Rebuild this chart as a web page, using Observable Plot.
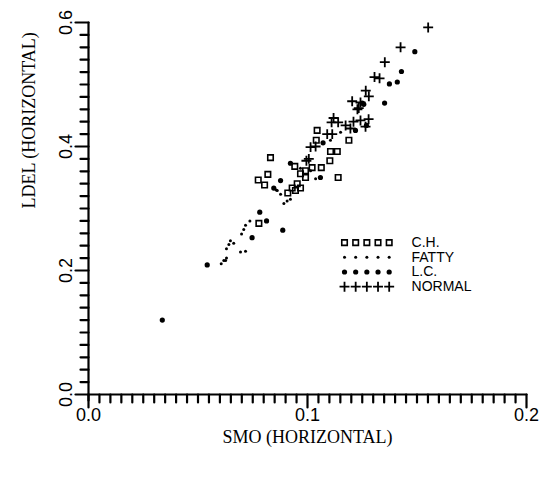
<!DOCTYPE html>
<html><head><meta charset="utf-8">
<script src="https://cdn.jsdelivr.net/npm/d3@7"></script>
<script src="https://cdn.jsdelivr.net/npm/@observablehq/plot@0.6"></script>
<style>body{margin:0;background:#fff;overflow:hidden}#chart svg{display:block}</style>
</head><body><div id="chart"></div>
<script>
// ---- data ----
const categories = ["C.H.", "FATTY", "L.C.", "NORMAL"];

const chX = [0.0831,0.0819,0.0775,0.0804,0.0778,0.0910,0.0945,0.0953,0.0942,0.0991,0.1021,0.1063,0.1102,0.1105,0.1136,0.1044,0.1040,0.1189,0.1140,0.0968,0.0991,0.0930,0.0968];
const chY = [0.382,0.355,0.346,0.338,0.276,0.325,0.329,0.340,0.368,0.361,0.366,0.366,0.377,0.392,0.392,0.426,0.410,0.410,0.350,0.356,0.350,0.333,0.333];

const fattyX = [0.0857,0.0862,0.0877,0.0892,0.0907,0.0922,0.0737,0.0717,0.0709,0.0699,0.0648,0.0641,0.0630,0.0663,0.0694,0.0717,0.0630,0.0618,0.0606,0.0626,0.0968,0.1014,0.1105,0.1151,0.1037];
const fattyY = [0.330,0.329,0.323,0.308,0.312,0.315,0.280,0.273,0.266,0.259,0.248,0.242,0.235,0.244,0.230,0.231,0.220,0.216,0.211,0.216,0.365,0.361,0.410,0.423,0.348];

const lcX = [0.1490,0.1429,0.1410,0.1352,0.1250,0.1257,0.1374,0.1269,0.1219,0.1071,0.0922,0.1059,0.0877,0.0846,0.0782,0.0813,0.0887,0.0747,0.0337,0.0542];
const lcY = [0.553,0.521,0.504,0.470,0.470,0.468,0.501,0.434,0.426,0.406,0.373,0.350,0.345,0.333,0.294,0.280,0.265,0.253,0.120,0.209];

const normalX = [0.1551,0.1425,0.1353,0.1306,0.1329,0.1266,0.1280,0.1204,0.1234,0.1242,0.1228,0.1119,0.1110,0.1140,0.1210,0.1242,0.1279,0.1174,0.1090,0.1113,0.1014,0.1037,0.1006,0.0995,0.1196,0.1265];
const normalY = [0.592,0.560,0.536,0.512,0.510,0.490,0.481,0.473,0.462,0.471,0.460,0.446,0.439,0.439,0.440,0.442,0.444,0.434,0.420,0.420,0.399,0.400,0.380,0.377,0.429,0.432];

const xTickLabels = [0.0, 0.1, 0.2];
const yTickLabels = [0.0, 0.2, 0.4, 0.6];
const xMinorTicks = d3.range(0, 41).map(i => i * 0.005);
const yMinorTicks = d3.range(0, 31).map(i => i * 0.02);

// ---- layout ----
const W = 552, H = 483, mL = 88, mR = 26, mT = 22, mB = 89;
const pxX = (W - mL - mR) / 0.2;   // pixels per x unit
const pxY = (H - mT - mB) / 0.6;   // pixels per y unit

// ---- build tables ----
const seriesX = [chX, fattyX, lcX, normalX];
const seriesY = [chY, fattyY, lcY, normalY];

const legX0 = 0.1169, legDX = 0.0051, legY0 = 0.245, legDY = 0.0237, legTextX = 0.1475;

function rowsFor(k) {
  const pts = seriesX[k].map((x, i) => ({x, y: seriesY[k][i]}));
  for (let j = 0; j < 5; j++) pts.push({x: legX0 + j * legDX, y: legY0 - k * legDY});
  return pts;
}
const legendText = categories.map((c, k) => ({label: c, x: legTextX, y: legY0 - k * legDY}));

// axis geometry as line series (each segment is its own series)
const axisRows = [];
let sid = 0;
function seg(x1, y1, x2, y2) { axisRows.push({s: sid, x: x1, y: y1}, {s: sid, x: x2, y: y2}); sid++; }
seg(0, 0, 0.2, 0);                       // x axis line
seg(0, -6 / pxY, 0, 0.6);                // y axis line
xMinorTicks.forEach((v, i) => seg(v, 0, v, -(i % 20 === 0 ? 13 : 8) / pxY));
yMinorTicks.forEach((v, i) => seg(0, v, -(i % 10 === 0 ? 13 : 8) / pxX, v));

const styles = [
  {symbol: "square", r: 3.1, fill: "none", stroke: "black", strokeWidth: 1.6},
  {symbol: "circle", r: 1.5, fill: "black"},
  {symbol: "circle", r: 2.6, fill: "black"},
  {symbol: "plus", r: 3.3, stroke: "black", strokeWidth: 1.8}
];

const serif = "'Liberation Serif', 'DejaVu Serif', serif";
const sans = "'Liberation Sans', Arial, sans-serif";

const plot = Plot.plot({
  width: W, height: H,
  marginLeft: mL, marginRight: mR, marginTop: mT, marginBottom: mB,
  style: {background: "white", color: "black", fontFamily: sans},
  x: {domain: [0, 0.2], axis: null},
  y: {domain: [0, 0.6], axis: null},
  marks: [
    // data + legend symbols
    ...categories.map((c, k) => Plot.dot(rowsFor(k), {x: "x", y: "y", ...styles[k]})),
    Plot.text(legendText, {x: "x", y: "y", text: "label", textAnchor: "start", fontSize: 14, fontFamily: sans, fill: "black", letterSpacing: 0.6}),
    // tick labels
    Plot.text(xTickLabels, {x: d => d, y: () => 0, dy: 21, text: d => d.toFixed(1), fontSize: 18, fontFamily: sans, fill: "black"}),
    Plot.text(yTickLabels, {x: () => 0, y: d => d, dx: -22, rotate: -90, text: d => d.toFixed(1), fontSize: 18, fontFamily: sans, fill: "black"}),
    // axis titles
    Plot.text(["SMO (HORIZONTAL)"], {x: () => 0.1, frameAnchor: "bottom", dy: 48, fontSize: 18, fontFamily: serif, fill: "black", letterSpacing: 0.8}),
    Plot.text(["LDEL (HORIZONTAL)"], {frameAnchor: "left", dx: -59, rotate: -90, fontSize: 18, fontFamily: serif, fill: "black", letterSpacing: 1}),
    // axes drawn last, on top
    Plot.line(axisRows, {x: "x", y: "y", z: "s", stroke: "black", strokeWidth: 2.2, strokeOpacity: 1, curve: "linear"})
  ]
});
document.getElementById("chart").appendChild(plot);
</script>
</body></html>
